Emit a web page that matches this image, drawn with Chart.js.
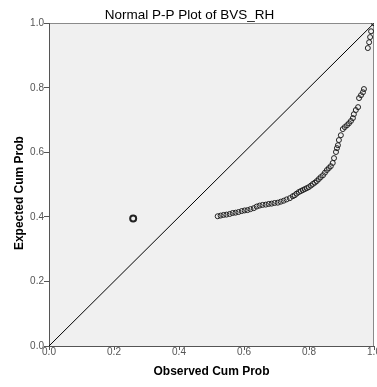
<!DOCTYPE html>
<html>
<head>
<meta charset="utf-8">
<script src="https://cdn.jsdelivr.net/npm/chart.js@4"></script>
<style>
  html, body { margin: 0; padding: 0; background: #fff; overflow: hidden; }
  #wrap { width: 379px; height: 387px; }
</style>
</head>
<body>
<div id="wrap"><canvas id="ppChart"></canvas></div>
<script>
const chartTitle = 'Normal P-P Plot of BVS_RH';
const xTitle = 'Observed Cum Prob';
const yTitle = 'Expected Cum Prob';
const axisTicks = [0, 0.2, 0.4, 0.6, 0.8, 1.0];

// observed vs expected cumulative probability
const observed = [0.259, 0.519, 0.528, 0.537, 0.546, 0.556, 0.565, 0.574, 0.583, 0.593,
    0.602, 0.611, 0.620, 0.630, 0.639, 0.648, 0.657, 0.667, 0.676, 0.685,
    0.694, 0.704, 0.713, 0.722, 0.731, 0.741, 0.750, 0.756, 0.762, 0.769,
    0.775, 0.781, 0.787, 0.793, 0.799, 0.806, 0.812, 0.818, 0.824, 0.830,
    0.836, 0.843, 0.849, 0.855, 0.861, 0.867, 0.873, 0.877, 0.883, 0.886,
    0.889, 0.892, 0.898, 0.904, 0.910, 0.917, 0.923, 0.929, 0.935, 0.938,
    0.944, 0.951, 0.954, 0.960, 0.966, 0.969, 0.981, 0.985, 0.988, 0.991, 1.000];
const expected = [0.395, 0.402, 0.404, 0.406, 0.407, 0.409, 0.412, 0.413, 0.415, 0.418,
    0.420, 0.421, 0.424, 0.427, 0.432, 0.435, 0.437, 0.438, 0.440, 0.441,
    0.443, 0.444, 0.447, 0.450, 0.454, 0.458, 0.464, 0.467, 0.472, 0.477,
    0.480, 0.483, 0.486, 0.489, 0.492, 0.497, 0.502, 0.506, 0.511, 0.517,
    0.523, 0.529, 0.537, 0.545, 0.551, 0.557, 0.567, 0.582, 0.601, 0.613,
    0.622, 0.638, 0.653, 0.672, 0.678, 0.684, 0.690, 0.697, 0.706, 0.718,
    0.731, 0.740, 0.768, 0.777, 0.786, 0.796, 0.923, 0.941, 0.957, 0.975, 1.000];
// diagonal reference line
const refLine = [0, 1];

Chart.defaults.font.family = '"Liberation Sans", Arial, sans-serif';

// grey plot background, frame and the vertical axis title
const plotFrame = {
    id: 'plotFrame',
    beforeDraw(chart) {
        const { ctx, chartArea: a } = chart;
        ctx.save();
        ctx.fillStyle = '#f0f0f0';
        ctx.fillRect(a.left, a.top, a.right - a.left, a.bottom - a.top);
        ctx.strokeStyle = '#8a8a8a';
        ctx.lineWidth = 1;
        ctx.beginPath();
        ctx.moveTo(a.left, Math.round(a.top) + 0.5);
        ctx.lineTo(a.right, Math.round(a.top) + 0.5);
        ctx.moveTo(Math.round(a.right) - 0.5, a.top);
        ctx.lineTo(Math.round(a.right) - 0.5, a.bottom);
        ctx.stroke();
        ctx.restore();
    },
    afterDraw(chart) {
        const { ctx, chartArea: a } = chart;
        ctx.save();
        ctx.translate(20, (a.top + a.bottom) / 2 + 8.5);
        ctx.rotate(-Math.PI / 2);
        ctx.font = 'bold 12px "Liberation Sans", Arial, sans-serif';
        ctx.fillStyle = '#000';
        ctx.textAlign = 'center';
        ctx.textBaseline = 'middle';
        ctx.fillText(yTitle, 0, 0);
        ctx.restore();
    }
};

const setTicks = scale => { scale.ticks = axisTicks.map(v => ({ value: v })); };

const ctx = document.getElementById('ppChart').getContext('2d');
new Chart(ctx, {
    type: 'scatter',
    data: {
        datasets: [{
            label: 'Observed',
            data: observed.map((x, i) => ({ x: x, y: expected[i] })),
            borderColor: '#222',
            backgroundColor: 'rgba(0,0,0,0)',
            pointRadius: c => (c.raw && c.raw.x < 0.5 ? 3 : 2.5),
            pointBorderWidth: c => (c.raw && c.raw.x < 0.5 ? 2 : 1),
            pointHoverRadius: 2.5
        }, {
            type: 'line',
            label: 'Reference',
            data: refLine.map(v => ({ x: v, y: v })),
            borderColor: '#000',
            borderWidth: 1,
            pointRadius: 0,
            fill: false
        }]
    },
    plugins: [plotFrame],
    options: {
        responsive: true,
        maintainAspectRatio: false,
        animation: false,
        layout: { padding: 0 },
        plugins: {
            legend: { display: false },
            tooltip: { enabled: false },
            title: {
                display: true,
                text: chartTitle,
                color: '#000',
                font: { size: 13.5, weight: 'normal' },
                padding: { top: 7, bottom: 0 }
            }
        },
        scales: {
            x: {
                type: 'linear',
                min: 0,
                max: 1,
                afterBuildTicks: setTicks,
                afterFit: s => { s.height = 41; },
                ticks: {
                    callback: v => v.toFixed(1),
                    color: '#555',
                    font: { size: 10 },
                    padding: -4,
                    maxRotation: 0,
                    autoSkip: false
                },
                grid: { display: true, drawOnChartArea: false, drawTicks: true, tickLength: 4, color: '#555' },
                border: { display: true, color: '#555' },
                title: {
                    display: true,
                    text: xTitle,
                    color: '#000',
                    font: { size: 12, weight: 'bold' },
                    padding: { top: 0, bottom: 8 }
                }
            },
            y: {
                type: 'linear',
                min: 0,
                max: 1,
                afterBuildTicks: setTicks,
                afterFit: s => { s.width = 49; },
                ticks: {
                    callback: v => v.toFixed(1),
                    color: '#555',
                    font: { size: 10 },
                    padding: 0,
                    autoSkip: false
                },
                grid: { display: true, drawOnChartArea: false, drawTicks: true, tickLength: 5, color: '#555' },
                border: { display: true, color: '#555' }
            }
        }
    }
});
</script>
</body>
</html>
